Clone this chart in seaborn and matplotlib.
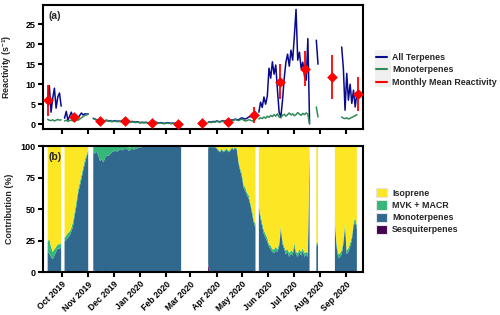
import numpy as np
import pandas as pd
import matplotlib
matplotlib.use("Agg")
import matplotlib.pyplot as plt
from matplotlib.patches import Patch, Rectangle
from matplotlib.lines import Line2D
import seaborn as sns

nan = float("nan")

# ---------------- data ----------------
start_date = "2019-09-14"     # first sample, one sample every 2 days
n_samples = 184

# (a) reactivity, s^-1
total_reactivity = (
    [6.0, 9.6, 3.0, 6.5, 9.0, 4.0, 6.8, 7.8, 4.5]
    + [nan]
    + [1.5, 3.2, 1.0, 2.0, 3.0, 1.8, 1.5, 2.0, 1.6, 2.2, 2.8, 2.3, 2.6, 2.5, 2.6]
    + [nan, nan]
    + [1.5, 1.3, 1.1, 1.0, 0.9, 1.0, 0.8, 0.9, 1.0, 0.8,
       0.9, 0.7, 0.8, 0.9, 0.7, 0.8, 0.7, 0.9, 0.7, 0.6,
       0.7, 0.8, 0.6, 0.7, 0.6, 0.5, 0.6, 0.5, 0.4, 0.5,
       0.4, 0.5, 0.4, 0.3, 0.4, 0.3, 0.4, 0.5, 0.4, 0.3,
       0.4, 0.3, 0.2, 0.3, 0.4, 0.3, 0.2, 0.3, 0.2, 0.3,
       0.2, 0.3, 0.2]
    + [nan] * 15
    + [0.5, 0.6, 0.5, 0.7, 0.6, 0.8, 0.7, 0.6, 0.8, 0.9,
       0.7, 0.8, 1.0, 0.9, 1.1, 1.0, 1.3, 1.1, 1.1, 1.4,
       1.6, 1.4, 1.3, 1.5, 1.8, 1.9, 1.8, 2.5, 3.0]
    + [nan]
    + [3.0, 5.5, 4.2, 6.8, 5.0, 7.0, 14.0, 11.5, 15.6, 12.5,
       14.8, 8.5, 3.0, 1.8, 6.0, 11.5, 15.5, 17.5, 14.5, 18.5,
       16.0, 22.0, 28.7, 16.0, 18.0, 14.0, 15.5, 12.0, 11.0, 21.4,
       0.2]
    + [nan] * 3
    + [21.0, 15.0]
    + [nan] * 13
    + [19.3, 14.0, 3.5, 12.7, 6.0, 10.0, 5.2, 8.5, 4.3, 7.7]
)

mono_reactivity = (
    [1.2, 1.0, 0.9, 1.1, 0.8, 1.0, 1.2, 1.0, 1.1]
    + [nan]
    + [0.8, 1.0, 0.7, 0.9, 1.0, 0.8, 1.0, 1.1, 1.0, 1.3, 1.6, 1.9, 2.2, 2.3, 2.5]
    + [nan, nan]
    + [1.4, 1.2, 1.0, 0.9, 0.8, 0.9, 0.7, 0.8, 0.9, 0.7,
       0.8, 0.6, 0.7, 0.8, 0.6, 0.7, 0.6, 0.8, 0.6, 0.5,
       0.6, 0.7, 0.5, 0.6, 0.5, 0.4, 0.5, 0.4, 0.3, 0.4,
       0.3, 0.4, 0.3, 0.2, 0.3, 0.2, 0.3, 0.4, 0.3, 0.2,
       0.3, 0.2, 0.1, 0.2, 0.3, 0.2, 0.1, 0.2, 0.1, 0.2,
       0.1, 0.2, 0.1]
    + [nan] * 15
    + [0.4, 0.5, 0.4, 0.6, 0.5, 0.7, 0.6, 0.5, 0.7, 0.8,
       0.6, 0.7, 0.9, 0.8, 1.0, 0.9, 1.2, 1.0, 0.9, 1.1,
       1.3, 1.0, 0.8, 0.9, 1.1, 1.0, 0.8, 1.0, 1.2]
    + [nan]
    + [1.3, 1.6, 1.4, 1.8, 1.5, 2.0, 1.7, 2.2, 1.9, 2.4,
       2.0, 2.6, 1.8, 1.6, 2.2, 2.5, 2.0, 2.4, 2.8, 2.3,
       2.6, 2.1, 2.4, 2.9, 2.5, 2.2, 2.7, 2.4, 2.8, 2.5,
       0.0]
    + [nan] * 3
    + [4.3, 1.8]
    + [nan] * 13
    + [1.8, 1.5, 1.4, 1.6, 1.3, 1.5, 1.7, 1.9, 2.1, 2.4]
)

mean_dates = ["2019-09-15", "2019-10-15", "2019-11-15", "2019-12-15",
              "2020-01-15", "2020-02-15", "2020-03-15", "2020-04-15",
              "2020-05-15", "2020-06-15", "2020-07-15", "2020-08-15",
              "2020-09-15"]
monthly_mean = [6.0, 1.7, 0.8, 0.7, 0.3, 0.1, 0.3, 0.6, 2.2, 10.6, 13.9, 11.8, 7.5]
monthly_sd = [3.9, 0.8, 0.3, 0.3, 0.2, 0.1, 0.2, 0.3, 2.0, 4.4, 4.4, 5.4, 4.2]

# (b) contribution, %
sesq_pct = (
    [0, 0.5, 0, 0, 0, 0, 0, 0, 0]
    + [nan]
    + [0] * 15
    + [nan, nan]
    + [1, 1, 0.5, 0.5, 1, 0.5, 1, 0.5, 0.5, 1,
       0.5, 1, 0.5, 0.5, 0.5, 0.5, 0.5, 0.5, 0.5, 0.5]
    + [0] * 33
    + [nan] * 15
    + [6, 0.5] + [0] * 27
    + [nan]
    + [0] * 31
    + [nan] * 3
    + [0, 0]
    + [nan] * 9
    + [0] * 14
)

mono_pct = (
    [16, 14, 12, 10, 13, 16, 19, 18, 20]
    + [nan]
    + [24, 26, 27, 29, 32, 36, 45, 52, 62, 68, 74, 80, 86, 91, 95]
    + [nan, nan]
    + [94, 93, 95, 92, 87, 89, 86, 90, 92, 91,
       93, 94, 95, 96, 95, 96, 97, 96, 97, 97,
       98, 96, 97, 98, 97, 98, 98, 99, 99, 99]
    + [99.5] * 23
    + [nan] * 15
    + [92, 99, 99, 99, 99, 98, 96, 95, 97, 95,
       96, 97, 95, 96, 98, 97, 98, 97, 86, 80,
       75, 67, 64, 61, 58, 53, 46, 39, 35]
    + [nan]
    + [50, 42, 36, 30, 27, 24, 20, 18, 16, 15,
       17, 16, 20, 34, 22, 18, 14, 16, 12, 15,
       13, 20, 14, 12, 16, 13, 17, 12, 14, 12,
       100]
    + [nan] * 3
    + [20, 22]
    + [nan] * 9
    + [38, 20, 11, 12, 14, 22, 36, 14, 16, 20, 25, 36, 40, 34]
)

mvk_pct = (
    [8, 12, 8, 6, 5, 4, 3, 4, 3]
    + [nan]
    + [3, 3, 4, 3, 3, 4, 3, 4, 3, 3, 3, 3, 3, 2, 2]
    + [nan, nan]
    + [5, 6, 4, 7, 12, 10, 13, 9, 7, 8,
       6, 5, 4, 3, 4, 3, 2, 3, 2, 2,
       1.5, 3, 2, 1.5, 2, 1.5, 1.5, 1, 1, 1]
    + [0.5] * 23
    + [nan] * 15
    + [1, 0.5, 0.5, 0.5, 0.5, 1, 1, 1, 1, 1,
       1, 1, 1, 1, 1, 1, 1, 1, 2, 2,
       3, 2, 3, 2, 3, 2, 3, 2, 3]
    + [nan]
    + [3, 3, 3, 3, 3, 3, 2, 3, 2, 3,
       3, 2, 3, 3, 3, 2, 3, 2, 3, 2,
       3, 3, 2, 3, 2, 3, 2, 3, 2, 3,
       0]
    + [nan] * 3
    + [2, 2]
    + [nan] * 9
    + [3] * 14
)

month_ticks = ["2019-10-01", "2019-11-01", "2019-12-01", "2020-01-01",
               "2020-02-01", "2020-03-01", "2020-04-01", "2020-05-01",
               "2020-06-01", "2020-07-01", "2020-08-01", "2020-09-01"]

# ---------------- styling ----------------
sns.set_theme(style="ticks")
plt.rcParams["font.family"] = ["Liberation Sans", "DejaVu Sans"]
plt.rcParams.update({
    "font.weight": "bold",
    "axes.labelweight": "bold",
    "axes.edgecolor": "black",
    "axes.linewidth": 1.5,
    "xtick.color": "black",
    "ytick.color": "black",
    "mathtext.fontset": "custom",
    "mathtext.rm": "Liberation Sans:bold",
    "mathtext.it": "Liberation Sans:bold",
    "mathtext.bf": "Liberation Sans:bold",
    "mathtext.default": "rm",
})

FS = 6.4
C_TOTAL = "#0a0a8c"
C_MONO_LINE = "#2e8b57"
C_RED = "#ff0000"
C_ISO = "#fde725"
C_MVK = "#35b779"
C_MONO = "#31688e"
C_SESQ = "#440154"

dates = pd.date_range(start_date, periods=n_samples, freq="2D")
df = pd.DataFrame({
    "date": dates,
    "total": np.array(total_reactivity, float),
    "mono": np.array(mono_reactivity, float),
    "sesq": np.array(sesq_pct, float),
    "monop": np.array(mono_pct, float),
    "mvk": np.array(mvk_pct, float),
})

fig = plt.figure(figsize=(5.0, 3.15), dpi=100)
ax1 = fig.add_axes([0.086, 0.5905, 0.64, 0.3937])
ax2 = fig.add_axes([0.086, 0.1365, 0.64, 0.40])

# ---- panel (a) ----
for col, color, z in [("total", C_TOTAL, 2), ("mono", C_MONO_LINE, 3)]:
    seg = np.cumsum(df[col].isna().to_numpy())
    sub = df.assign(seg=seg)[df[col].notna()]
    sns.lineplot(data=sub, x="date", y=col, units="seg", estimator=None,
                 color=color, linewidth=1.1, ax=ax1, legend=False, zorder=z)

md = pd.to_datetime(mean_dates)
ax1.errorbar(md, monthly_mean, yerr=monthly_sd, fmt="none", ecolor=C_RED,
             elinewidth=1.3, capsize=0, zorder=4)
sns.scatterplot(x=md, y=monthly_mean, marker="D", s=30, color=C_RED,
                linewidth=0, ax=ax1, zorder=5, legend=False)

ax1.set_ylim(-1.2, 29.8)
ax1.set_yticks([0, 5, 10, 15, 20, 25])
ax1.set_ylabel(r"Reactivity (s$^{-1}$)", fontsize=FS, fontweight="bold")
ax1.set_xlabel("")
ax1.text(0.016, 0.95, "(a)", transform=ax1.transAxes, fontsize=7.5,
         fontweight="bold", va="top", ha="left")

# ---- panel (b) ----
valid = df["monop"].notna().to_numpy()
s = df["sesq"].fillna(0).to_numpy()
m = df["monop"].fillna(0).to_numpy()
v = df["mvk"].fillna(0).to_numpy()
l0 = np.zeros(n_samples)
l1 = s
l2 = s + m
l3 = s + m + v
l4 = np.full(n_samples, 100.0)
for lo, hi, c in [(l0, l1, C_SESQ), (l1, l2, C_MONO), (l2, l3, C_MVK), (l3, l4, C_ISO)]:
    ax2.fill_between(df["date"], lo, hi, where=valid, color=c, linewidth=0,
                     interpolate=False)

ax2.set_ylim(0, 100)
ax2.set_yticks([0, 25, 50, 75, 100])
ax2.set_ylabel("Contribution (%)", fontsize=FS, fontweight="bold")
ax2.set_xlabel("")
ax2.text(0.016, 0.955, "(b)", transform=ax2.transAxes, fontsize=7.5,
         fontweight="bold", va="top", ha="left")

# ---- shared axis styling ----
ticks = pd.to_datetime(month_ticks)
xlim = (pd.Timestamp("2019-09-08 12:00"), pd.Timestamp("2020-09-21 06:00"))
for ax in (ax1, ax2):
    ax.set_xlim(*xlim)
    ax.set_xticks(ticks)
    ax.tick_params(direction="out", length=3.5, width=1.5, labelsize=6.5, pad=2)
    for sp in ax.spines.values():
        sp.set_linewidth(1.5)
        sp.set_color("black")
    ax.yaxis.set_label_coords(-0.09, 0.5)
    for lab in ax.get_yticklabels():
        lab.set_fontweight("bold")
ax1.set_xticklabels([])
ax2.set_xticklabels([t.strftime("%b %Y") for t in ticks], rotation=45,
                    ha="right", va="top", rotation_mode="anchor", fontsize=6.2,
                    fontweight="bold")

# ---- legends ----
fig.patches.append(Rectangle((0.75, 0.724), 0.031, 0.118, transform=fig.transFigure,
                             facecolor="#f0f0f0", edgecolor="none", zorder=0))
h1 = [Line2D([], [], color=C_TOTAL, lw=1.5),
      Line2D([], [], color=C_MONO_LINE, lw=1.5),
      Line2D([], [], color=C_RED, lw=1.5)]
fig.legend(h1, ["All Terpenes", "Monoterpenes", "Monthly Mean Reactivity"],
           loc="center left", bbox_to_anchor=(0.752, 0.778), frameon=False,
           prop={"weight": "bold", "size": FS}, handlelength=1.2,
           handletextpad=0.6, labelspacing=0.38, borderaxespad=0, borderpad=0)

h2 = [Patch(facecolor=c, edgecolor="#e6e6e6", linewidth=0.8)
      for c in (C_ISO, C_MVK, C_MONO, C_SESQ)]
fig.legend(h2, ["Isoprene", "MVK + MACR", "Monoterpenes", "Sesquiterpenes"],
           loc="center left", bbox_to_anchor=(0.752, 0.329), frameon=False,
           prop={"weight": "bold", "size": FS}, handlelength=1.2,
           handleheight=1.2, handletextpad=0.6, labelspacing=0.3,
           borderaxespad=0, borderpad=0)

fig.savefig("out.png", dpi=100)
